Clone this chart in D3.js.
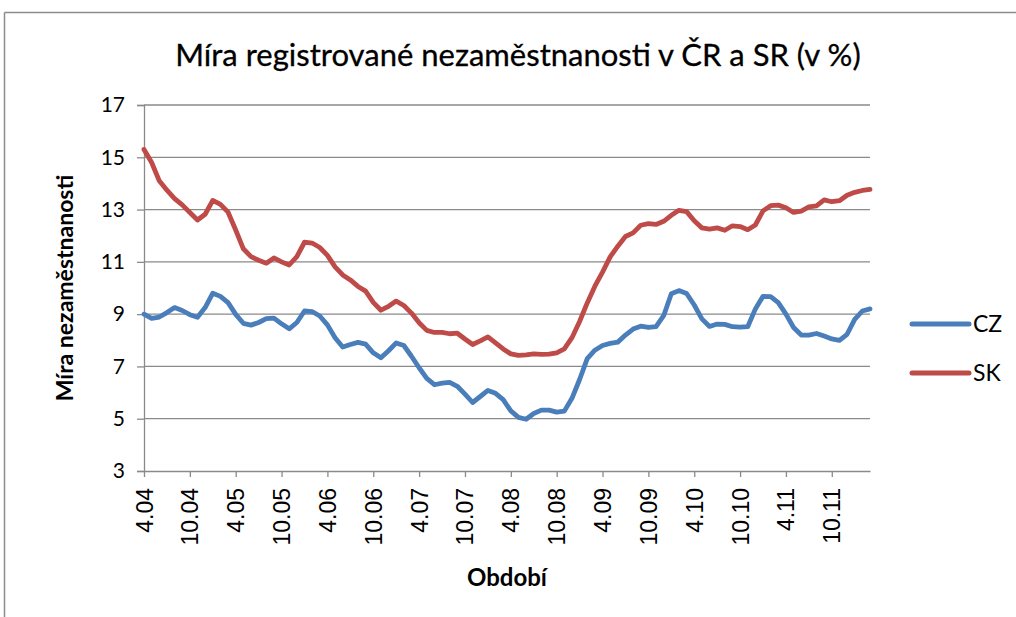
<!DOCTYPE html>
<html>
<head>
<meta charset="utf-8">
<script src="https://cdn.jsdelivr.net/npm/d3@7"></script>
<style>
  html, body { margin: 0; padding: 0; background: #fff; }
  svg { display: block; }
</style>
</head>
<body>
<script>
// ---- data ----
const categories = [
  "4.04","5.04","6.04","7.04","8.04","9.04","10.04","11.04","12.04","1.05","2.05","3.05",
  "4.05","5.05","6.05","7.05","8.05","9.05","10.05","11.05","12.05","1.06","2.06","3.06",
  "4.06","5.06","6.06","7.06","8.06","9.06","10.06","11.06","12.06","1.07","2.07","3.07",
  "4.07","5.07","6.07","7.07","8.07","9.07","10.07","11.07","12.07","1.08","2.08","3.08",
  "4.08","5.08","6.08","7.08","8.08","9.08","10.08","11.08","12.08","1.09","2.09","3.09",
  "4.09","5.09","6.09","7.09","8.09","9.09","10.09","11.09","12.09","1.10","2.10","3.10",
  "4.10","5.10","6.10","7.10","8.10","9.10","10.10","11.10","12.10","1.11","2.11","3.11",
  "4.11","5.11","6.11","7.11","8.11","9.11","10.11","11.11","12.11","1.12","2.12","3.12"
];
const cz = [
  9.0, 8.84, 8.89, 9.06, 9.25, 9.14, 8.98, 8.88, 9.25, 9.8, 9.68, 9.44,
  8.99, 8.65, 8.58, 8.68, 8.83, 8.85, 8.63, 8.44, 8.68, 9.12, 9.1, 8.93,
  8.59, 8.1, 7.74, 7.84, 7.92, 7.85, 7.52, 7.33, 7.6, 7.9, 7.8, 7.39,
  6.95, 6.54, 6.3, 6.36, 6.39, 6.24, 5.94, 5.62, 5.85, 6.08, 5.97, 5.73,
  5.3, 5.05, 4.98, 5.2, 5.33, 5.33, 5.25, 5.29, 5.78, 6.5, 7.3, 7.62,
  7.8, 7.88, 7.93, 8.2, 8.43, 8.54, 8.49, 8.52, 8.94, 9.78, 9.9, 9.79,
  9.35, 8.82, 8.53, 8.62, 8.61, 8.52, 8.5, 8.52, 9.2, 9.68, 9.67, 9.44,
  9.0, 8.49, 8.2, 8.2, 8.26, 8.16, 8.05, 8.0, 8.23, 8.8, 9.12, 9.2
];
const sk = [
  15.3, 14.8, 14.1, 13.74, 13.42, 13.18, 12.89, 12.6, 12.82, 13.35, 13.2, 12.9,
  12.22, 11.5, 11.2, 11.06, 10.95, 11.15, 11.0, 10.88, 11.2, 11.75, 11.72, 11.55,
  11.25, 10.81, 10.5, 10.31, 10.06, 9.88, 9.45, 9.15, 9.3, 9.5, 9.33, 9.04,
  8.67, 8.38, 8.3, 8.3, 8.25, 8.27, 8.05, 7.84, 7.98, 8.13, 7.9, 7.67,
  7.48, 7.42, 7.44, 7.48, 7.46, 7.47, 7.52, 7.67, 8.1, 8.72, 9.43, 10.07,
  10.61, 11.19, 11.6, 11.97, 12.11, 12.4, 12.46, 12.43, 12.55, 12.78, 12.97, 12.92,
  12.57, 12.3, 12.25, 12.3, 12.21, 12.38, 12.35, 12.23, 12.41, 12.95, 13.15, 13.17,
  13.07, 12.89, 12.94, 13.1, 13.14, 13.37, 13.3, 13.34, 13.55, 13.66, 13.73, 13.77
];
const tickLabels = ["4.04","10.04","4.05","10.05","4.06","10.06","4.07","10.07",
                    "4.08","10.08","4.09","10.09","4.10","10.10","4.11","10.11"];
const yTicks = [3, 5, 7, 9, 11, 13, 15, 17];
const seriesNames = ["CZ", "SK"];
const seriesColors = ["#4a7ebb", "#be4b48"];

// ---- chart ----
const W = 1016, H = 617;
const svg = d3.select("body").append("svg").attr("width", W).attr("height", H);

const x = d3.scaleLinear().domain([0, categories.length - 1]).range([144, 870]);
const y = d3.scaleLinear().domain([3, 17]).range([471, 105]);

// outer frame
svg.append("line").attr("x1", 4.5).attr("x2", W).attr("y1", 12.5).attr("y2", 12.5)
  .attr("stroke", "#8c8c8c").attr("stroke-width", 1.5);
svg.append("line").attr("x1", 4.5).attr("x2", 4.5).attr("y1", 12.5).attr("y2", H)
  .attr("stroke", "#8c8c8c").attr("stroke-width", 1.5);

// title
svg.append("text").attr("x", 518).attr("y", 66).attr("text-anchor", "middle")
  .style("font-family", "Lato, 'Open Sans', sans-serif").style("font-size", "31px")
  .attr("fill", "#000").attr("stroke", "#000").attr("stroke-width", 0.3)
  .text("Míra registrované nezaměstnanosti v ČR a SR (v %)");

// gridlines
svg.append("g").selectAll("line").data(yTicks.filter(d => d > 3)).join("line")
  .attr("x1", 144).attr("x2", 870).attr("y1", d => y(d)).attr("y2", d => y(d))
  .attr("stroke", "#8a8a8a").attr("stroke-width", 1.3);

// y axis
const yAxis = svg.append("g").attr("transform", "translate(144,0)")
  .call(d3.axisLeft(y).tickValues(yTicks).tickSize(7).tickPadding(12).tickFormat(d3.format("d")));
yAxis.select(".domain").attr("stroke", "#8a8a8a").attr("stroke-width", 1.3);
yAxis.selectAll(".tick line").attr("stroke", "#8a8a8a").attr("stroke-width", 1.3);
yAxis.selectAll(".tick text").style("font-family", "Lato, sans-serif").style("font-size", "21px").attr("fill", "#000");

// x axis
const tickIdx = tickLabels.map(t => categories.indexOf(t));
const xAxis = svg.append("g").attr("transform", "translate(0,471)")
  .call(d3.axisBottom(x).tickValues(tickIdx).tickSize(6).tickSizeOuter(0)
        .tickFormat(i => categories[i]));
xAxis.select(".domain").attr("stroke", "#8a8a8a").attr("stroke-width", 1.3);
xAxis.selectAll(".tick line").attr("stroke", "#8a8a8a").attr("stroke-width", 1.3);
xAxis.selectAll(".tick text")
  .style("font-family", "'Liberation Sans', Arial, sans-serif").style("font-size", "23px").attr("fill", "#000")
  .attr("text-anchor", "end").attr("dy", null).attr("y", 0)
  .attr("transform", "translate(8,17) rotate(-90)");

// series lines
const line = d3.line().x((d, i) => x(i)).y(d => y(d));
[cz, sk].forEach((s, k) => {
  svg.append("path").datum(s).attr("d", line).attr("fill", "none")
    .attr("stroke", seriesColors[k]).attr("stroke-width", 4.8)
    .attr("stroke-linejoin", "round").attr("stroke-linecap", "round");
});

// axis titles
svg.append("text").attr("x", 507).attr("y", 586).attr("text-anchor", "middle")
  .style("font-family", "Lato, sans-serif").style("font-size", "24px").style("font-weight", "bold")
  .text("Období");
svg.append("text").attr("transform", "translate(73,288) rotate(-90)").attr("text-anchor", "middle")
  .style("font-family", "Lato, sans-serif").style("font-size", "23px").style("font-weight", "bold")
  .text("Míra nezaměstnanosti");

// legend
const legY = [324, 373];
const leg = svg.append("g").selectAll("g").data(seriesNames).join("g");
leg.append("line").attr("x1", 912).attr("x2", 969).attr("y1", (d, i) => legY[i]).attr("y2", (d, i) => legY[i])
  .attr("stroke", (d, i) => seriesColors[i]).attr("stroke-width", 5).attr("stroke-linecap", "round");
leg.append("text").attr("x", 973).attr("y", (d, i) => legY[i] + 8)
  .style("font-family", "Lato, sans-serif").style("font-size", "23px").text(d => d);
</script>
</body>
</html>
